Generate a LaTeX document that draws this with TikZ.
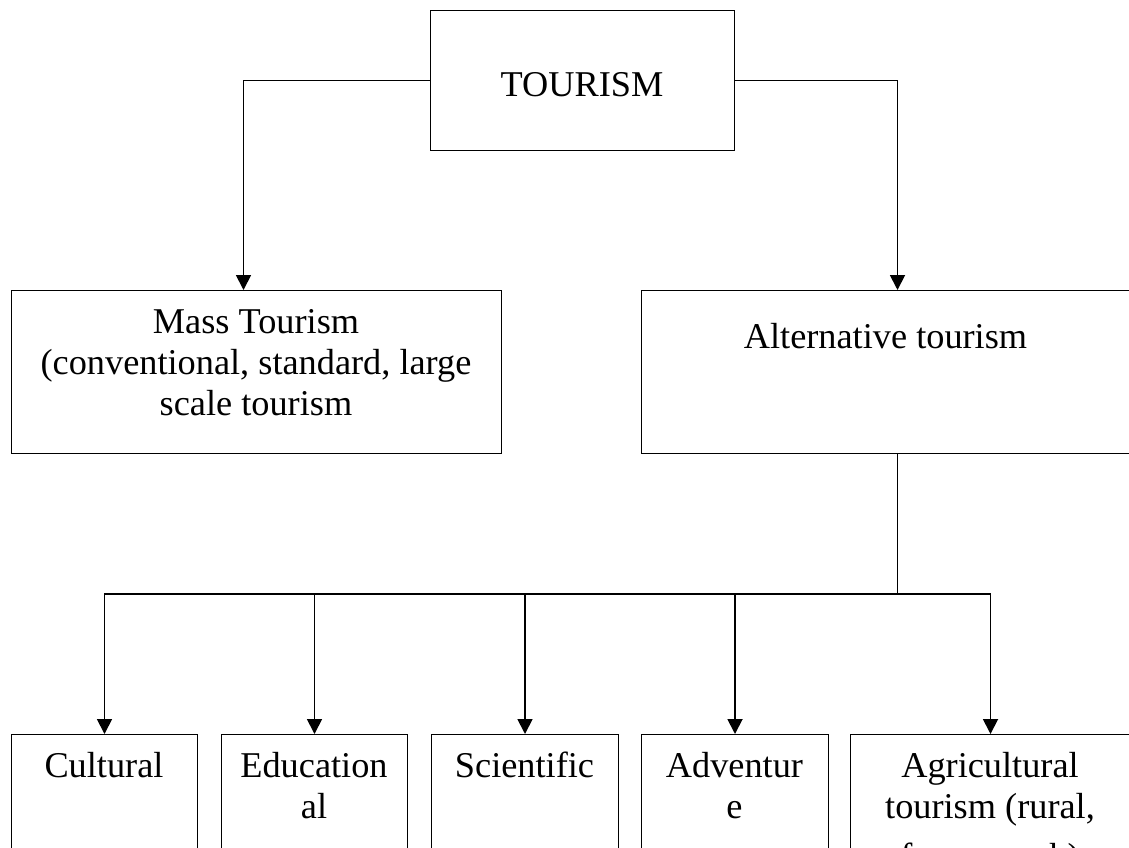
\documentclass[tikz,border=0pt]{standalone}
\usepackage{fontspec}
\setmainfont{Liberation Serif}
\usetikzlibrary{arrows.meta}
\begin{document}
\begin{tikzpicture}[x=1pt,y=-1pt,
  box/.style={draw, line width=1pt, inner sep=0pt, anchor=north west},
  txt/.style={anchor=base, inner sep=0pt, font=\fontsize{36.3}{41}\selectfont},
  link/.style={line width=1.8pt},
  arr/.style={line width=1.8pt, -{Triangle[length=15pt,width=15pt]}}]
\useasboundingbox (0,0) rectangle (1129,847);
\clip (0,0) rectangle (1129,847);

% top level
\node[box, minimum width=304pt, minimum height=140pt] (tourism) at (430,10) {};
\node[txt] (tourismtxt) at (582,96) {TOURISM};

% second level
\node[box, minimum width=490pt, minimum height=163pt] (mass) at (11,290) {};
\node[txt] (masstxt) at (256,333) {\begin{tabular}[t]{@{}c@{}}Mass Tourism\\(conventional, standard, large\\scale tourism\end{tabular}};

\node[box, minimum width=489pt, minimum height=163pt] (alt) at (641,290) {};
\node[txt] (alttxt) at (885.5,348) {Alternative tourism};

% third level
\node[box, minimum width=186pt, minimum height=150pt] (cult) at (11,734) {};
\node[box, minimum width=186pt, minimum height=150pt] (edu)  at (221,734) {};
\node[box, minimum width=187pt, minimum height=150pt] (sci)  at (431,734) {};
\node[box, minimum width=187pt, minimum height=150pt] (adv)  at (641,734) {};
\node[box, minimum width=280pt, minimum height=150pt] (agri) at (850,734) {};

\node[txt] (culttxt) at (104,777) {Cultural};
\node[txt] (edutxt)  at (314,777) {\begin{tabular}[t]{@{}c@{}}Education\\al\end{tabular}};
\node[txt] (scitxt)  at (524.5,777) {Scientific};
\node[txt] (advtxt)  at (734.5,777) {\begin{tabular}[t]{@{}c@{}}Adventur\\e\end{tabular}};
\node[txt] (agritxt) at (990,777) {\begin{tabular}[t]{@{}c@{}}Agricultural\\tourism (rural,\\[9pt]farm, ranch)\end{tabular}};

% connectors
\coordinate (split) at (897.5,594);
\draw[arr] (tourism.west) -| ([xshift=-13pt]mass.north);
\draw[arr] (tourism.east) -| (alt.north -| split);

\draw[link] (alt.south -| split) -- (split);
\draw[arr] (split) -| (cult.north);
\draw[arr] (split) -| (edu.north);
\draw[arr] (split) -| (sci.north);
\draw[arr] (split) -| (adv.north);
\draw[arr] (split) -| (agri.north);
\end{tikzpicture}
\end{document}
